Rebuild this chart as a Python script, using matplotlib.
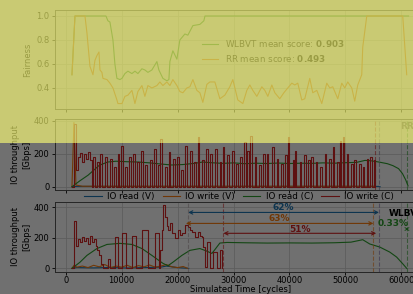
import matplotlib
matplotlib.use("Agg")
import matplotlib.pyplot as plt
from matplotlib.patches import Rectangle

# ---- top panel: fairness over time ----
fair_wlbvt_t = [1125, 1660, 7200, 7550, 7910, 8450, 8800, 9160, 9700, 10060, 10590, 11130,
                11840, 12380, 12910, 13630, 14160, 14700, 15410, 16310, 16660, 17380, 18090,
                18450, 18630, 19160, 19880, 20410, 21310, 21840, 22740, 23990, 24700, 24900, 61300]
fair_wlbvt = [0.51, 1.0, 1.0, 0.96, 0.95, 0.80, 0.60, 0.48, 0.47, 0.48, 0.52, 0.54,
              0.52, 0.54, 0.52, 0.56, 0.55, 0.53, 0.55, 0.62, 0.55, 0.48, 0.46,
              0.47, 0.62, 0.71, 0.64, 0.80, 0.85, 0.84, 0.92, 0.93, 0.96, 1.0, 1.0]

fair_rr_t = [1125, 1660, 3450, 3800, 4340, 4880, 5230, 5590, 5950, 6130, 6480, 6660, 7380,
             7910, 8450, 9160, 9340, 10060, 10590, 11130, 11840, 12380, 12910, 13630, 14160,
             14700, 15410, 16310, 16840, 17380, 18090, 18630, 19160, 19880, 20410, 20950,
             21660, 22200, 22740, 23450, 23990, 24520, 25240, 25770, 26670, 27560, 28450,
             29340, 29880, 30770, 31670, 32380, 32920, 33450, 34170, 35060, 35600, 36140,
             36850, 37390, 38270, 39000, 39700, 40420, 40950, 41490, 42200, 42740, 43630,
             44170, 44890, 45780, 46670, 47210, 47740, 48640, 49350, 49890, 50420, 51140,
             51670, 52210, 52920, 53100, 53820, 60250, 60960]
fair_rr = [0.51, 1.0, 1.0, 0.86, 0.58, 0.51, 0.63, 0.67, 0.70, 0.55, 0.53, 0.48, 0.47,
           0.44, 0.40, 0.30, 0.27, 0.27, 0.33, 0.34, 0.38, 0.27, 0.37, 0.42, 0.33,
           0.42, 0.40, 0.42, 0.45, 0.42, 0.45, 0.42, 0.47, 0.42, 0.37, 0.36,
           0.40, 0.41, 0.47, 0.38, 0.36, 0.28, 0.43, 0.45, 0.45, 0.31, 0.34,
           0.41, 0.47, 0.30, 0.27, 0.38, 0.425, 0.38, 0.33, 0.41, 0.38, 0.33,
           0.425, 0.36, 0.31, 0.36, 0.40, 0.44, 0.425, 0.44, 0.30, 0.31, 0.48,
           0.36, 0.38, 0.27, 0.44, 0.40, 0.41, 0.31, 0.44, 0.40, 0.45, 0.40,
           0.29, 0.425, 0.51, 0.74, 1.0, 1.0, 0.51]

fair_labels = ["WLBVT mean score: ", "RR mean score: "]
fair_means = ["0.903", "0.493"]

# ---- middle panel: RR io throughput ----
rr_read_v_t = [1125, 2000, 56000, 56200]
rr_read_v = [0, 2, 2, 0]
rr_write_v_t = [1125, 1480, 1840, 3000, 55000, 55200]
rr_write_v = [0, 390, 10, 3, 3, 0]
rr_read_c_t = [1125, 2500, 4000, 5000, 6000, 7500, 9000, 11000, 13000, 15000, 17000, 19000,
               21000, 23000, 24500, 26000, 28000, 30000, 32000, 34000, 36000, 38000, 40000,
               42000, 44000, 46000, 48000, 50000, 52000, 53500, 54500, 56000, 57500, 58500,
               59500, 60200, 60800, 61200]
rr_read_c = [0, 35, 70, 100, 130, 150, 155, 152, 150, 145, 138, 132,
             135, 142, 150, 146, 142, 145, 140, 143, 141, 144, 141,
             143, 142, 145, 143, 146, 148, 160, 158, 150, 140, 128,
             110, 80, 40, 5]
# start of the run: one continuous burst
rr_write_c_head_t = [1125, 1480, 1840, 2200, 2550, 2910, 3270, 3630, 3980, 4340, 4700]
rr_write_c_head = [0, 380, 100, 180, 205, 150, 200, 170, 210, 160, 0]
# after that: short write bursts (start cycle, rate), each ~300 cycles long
rr_burst_t = [4970, 5680, 6130, 7020, 7910, 8700, 9300, 9880, 10600, 11400, 12020, 12800,
              13500, 14200, 15060, 15800, 16500, 16840, 17730, 18400, 19200, 19880, 20700,
              21400, 22200, 23000, 23600, 24340, 25100, 25770, 26670, 27500, 28090, 28900,
              29700, 30500, 31130, 31900, 32500, 32920, 33810, 34600, 35300, 35950, 36850,
              37700, 38500, 39200, 39700, 40600, 40950, 41850, 42600, 43300, 43900, 44700,
              45500, 46310, 47100, 47740, 48500, 48990, 49530, 50240, 51000, 51600, 52400,
              53100, 53810, 54380, 55060]
rr_burst = [180, 150, 200, 180, 170, 120, 200, 250, 120, 180, 200, 150,
            220, 130, 160, 230, 130, 290, 120, 210, 170, 180, 100,
            250, 220, 150, 300, 160, 230, 200, 230, 150, 240, 190,
            220, 140, 180, 270, 220, 310, 180, 130, 200, 200, 240,
            170, 140, 190, 300, 160, 220, 150, 190, 160, 180, 150,
            120, 200, 170, 240, 150, 280, 300, 200, 140, 160, 140,
            120, 170, 180, 160]
burst_len = 300

# ---- bottom panel: WLBVT io throughput ----
wl_read_v_t = [1125, 2000, 5000, 8000, 11000, 14000, 17000, 18000, 20000, 22000]
wl_read_v = [0, 5, 3, 6, 2, 5, 8, 15, 5, 0]
wl_write_v_t = [1125, 1500, 2000, 3000, 4000, 5000, 6000, 7000, 8000, 9000, 10000, 11000,
                12000, 13000, 14000, 15000, 16000, 17000, 18000, 19000, 20000, 21000, 21800]
wl_write_v = [0, 20, 8, 15, 5, 20, 10, 25, 5, 15, 8, 20,
              5, 18, 10, 22, 8, 15, 25, 10, 5, 12, 0]
wl_read_c_t = [1125, 2550, 3800, 5590, 7380, 9700, 11840, 13630, 15410, 16660, 17380, 18270,
               19160, 20770, 22200, 23990, 25240, 26130, 26670, 27560, 28810, 32000, 36000,
               40000, 44000, 48000, 51000, 53100, 54350, 56130, 57920, 59160, 60250, 60960]
wl_read_c = [0, 40, 85, 130, 157, 164, 157, 130, 85, 52, 33, 17,
             40, 85, 118, 130, 113, 98, 123, 166, 170, 168, 166,
             167, 166, 168, 172, 188, 160, 140, 107, 74, 30, 0]
wl_write_c_t = [1125, 1480, 1840, 2200, 2550, 2910, 3270, 3630, 3980, 4340, 4700, 5050, 5410,
                5590, 5950, 6300, 6660, 7550, 7910, 8800, 9340, 10060, 10770, 11840, 12560,
                13630, 14700, 15950, 16660, 16840, 17200, 17380, 17730, 18090, 18270, 18630,
                18990, 19520, 20060, 20410, 20770, 21310, 21840, 22200, 22560, 23090, 23630,
                23990, 24340, 24520, 24880, 25240, 25770, 26310, 27020, 27560, 28000]
wl_write_c = [0, 310, 150, 190, 170, 205, 180, 200, 160, 210, 175, 195, 150,
              120, 90, 30, 0, 60, 0, 205, 0, 235, 0, 215, 0,
              250, 0, 230, 0, 120, 250, 415, 336, 280, 250, 300,
              230, 197, 250, 220, 230, 283, 270, 250, 236, 203, 236,
              215, 203, 138, 7, 170, 0, 105, 0, 118, 0]

# completion markers and the reductions between them
rr_done = [55300, 56000, 61000]
rr_done_colors = ["#d62728", "#8c7fa8", "#2ca02c"]
wl_done = [21900, 28200, 55000, 56000, 61000]
wl_done_colors = ["#b0a0a8", "#d62728", "#ff7f0e", "#7f6fb0", "#2ca02c"]
gain_start = [21900, 21500, 28200]
gain_end = [56000, 55000, 55500]
gain_level = [367, 295, 230]
gain_text = ["62%", "63%", "51%"]
gain_colors = ["#1f77b4", "#ff7f0e", "#d62728"]

C_BLUE, C_ORANGE, C_GREEN, C_RED = "#1f77b4", "#ff7f0e", "#2ca02c", "#d62728"

# burst list -> step series
rr_write_c_t = list(rr_write_c_head_t)
rr_write_c = list(rr_write_c_head)
for t, v in zip(rr_burst_t, rr_burst):
    rr_write_c += [v, 0]
    rr_write_c_t += [t, t + burst_len]

plt.rcParams["font.size"] = 6
fig = plt.figure(figsize=(4.13, 2.94), dpi=100)
L, W = 0.133, 0.9
ax1 = fig.add_axes([L, 0.629, W, 0.337])
ax2 = fig.add_axes([L, 0.354, W, 0.240], sharex=ax1)
ax3 = fig.add_axes([L, 0.0765, W, 0.236], sharex=ax1)

for ax in (ax1, ax2, ax3):
    ax.grid(True, color="#d4d4d4", linewidth=0.6)
    ax.set_axisbelow(True)
    ax.tick_params(labelsize=6, length=2.5, width=0.6, pad=1.5)
    for s in ax.spines.values():
        s.set_color("#555555")
        s.set_linewidth(0.7)

# top
ax1.plot(fair_wlbvt_t, fair_wlbvt, color=C_GREEN, lw=0.8,
         label=fair_labels[0] + r"$\bf{" + fair_means[0] + "}$")
ax1.plot(fair_rr_t, fair_rr, color=C_ORANGE, lw=0.8,
         label=fair_labels[1] + r"$\bf{" + fair_means[1] + "}$")
ax1.set_ylim(0.224, 1.05)
ax1.set_yticks([0.4, 0.6, 0.8, 1.0])
ax1.set_ylabel("Fairness", fontsize=6, labelpad=3)
ax1.legend(loc="upper left", bbox_to_anchor=(0.375, 0.80), frameon=False,
           fontsize=6.3, handlelength=1.8, labelspacing=0.5)
ax1.tick_params(labelbottom=False)

# middle (RR)
ax2.plot(rr_read_v_t, rr_read_v, color=C_BLUE, lw=0.8, label="IO read (V)")
ax2.plot(rr_write_v_t, rr_write_v, color=C_ORANGE, lw=0.8, label="IO write (V)")
ax2.plot(rr_read_c_t, rr_read_c, color=C_GREEN, lw=0.8, label="IO read (C)")
ax2.plot(rr_write_c_t, rr_write_c, color=C_RED, lw=0.8, drawstyle="steps-post",
         label="IO write (C)")
for x, c in zip(rr_done, rr_done_colors):
    ax2.axvline(x, color=c, ls="--", lw=0.8, alpha=0.6)
ax2.set_ylim(-19.5, 409.5)
ax2.set_yticks([0, 200, 400])
ax2.set_ylabel("IO throughput\n[Gbps]", fontsize=6, labelpad=2)
ax2.text(59700, 364, "RR", fontsize=6.5, fontweight="bold", color="#777777", va="center")
ax2.tick_params(labelbottom=False)
ax2.legend(loc="center", bbox_to_anchor=(0.579, 0.333), bbox_transform=fig.transFigure,
           ncol=4, frameon=False, fontsize=6.3, handlelength=2.0, columnspacing=0.9,
           handletextpad=0.6)

# bottom (WLBVT)
ax3.plot(wl_read_v_t, wl_read_v, color=C_BLUE, lw=0.8)
ax3.plot(wl_write_v_t, wl_write_v, color=C_ORANGE, lw=0.8)
ax3.plot(wl_read_c_t, wl_read_c, color=C_GREEN, lw=0.8)
ax3.plot(wl_write_c_t, wl_write_c, color=C_RED, lw=0.8, drawstyle="steps-post")
for x, c in zip(wl_done, wl_done_colors):
    ax3.axvline(x, color=c, ls="--", lw=0.8, alpha=0.6)
for x0, x1, y, t, c, dy in zip(gain_start, gain_end, gain_level, gain_text, gain_colors,
                               [33, 33, 26]):
    ax3.annotate("", xy=(x0, y), xytext=(x1, y),
                 arrowprops=dict(arrowstyle="<->", color=c, lw=0.8, shrinkA=0, shrinkB=0))
    ax3.text((x0 + x1) / 2, y + dy, t, color=c, fontsize=6.5, fontweight="bold",
             ha="center", va="center")
ax3.annotate("", xy=(60700, 258), xytext=(61300, 258),
             arrowprops=dict(arrowstyle="<->", color=C_GREEN, lw=0.6, shrinkA=0, shrinkB=0,
                             mutation_scale=5))
ax3.text(58600, 295, "0.33%", color=C_GREEN, fontsize=6.5, fontweight="bold",
         ha="center", va="center")
ax3.text(57700, 360, "WLBVT", fontsize=6.5, fontweight="bold", color="black", va="center")
ax3.set_ylim(-20.7, 434.7)
ax3.set_yticks([0, 200, 400])
ax3.set_ylabel("IO throughput\n[Gbps]", fontsize=6, labelpad=2)
ax3.set_xlabel("Simulated Time [cycles]", fontsize=6, labelpad=0)
ax3.tick_params(axis="x", pad=1)
ax3.set_xlim(-1920, 64520)
ax3.set_xticks([0, 10000, 20000, 30000, 40000, 50000, 60000])

# tinted bands over the picture
split = 1 - 143 / 294
fig.add_artist(Rectangle((0, split), 1, 1 - split, transform=fig.transFigure,
                         facecolor=(0.74, 0.75, 0.33), alpha=0.82, edgecolor="none",
                         zorder=100))
fig.add_artist(Rectangle((0, 0), 1, split, transform=fig.transFigure,
                         facecolor="black", alpha=0.56, edgecolor="none", zorder=100))

fig.savefig("out.png", dpi=100)
